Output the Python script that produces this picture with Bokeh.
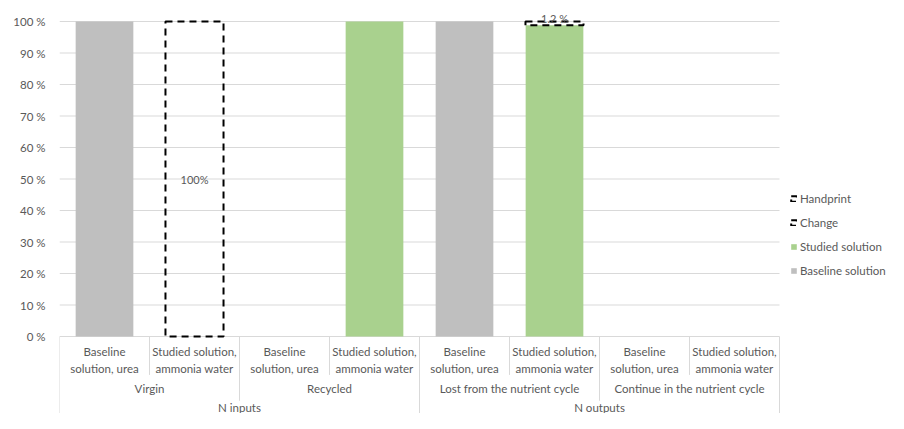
import numpy as np
from bokeh.plotting import figure
from bokeh.models import ColumnDataSource, FixedTicker, Legend, LegendItem, Range1d
from bokeh.core.properties import value
from bokeh.embed import file_html
from bokeh.resources import INLINE

# ---- data ----
categories = ["Baseline\nsolution, urea", "Studied solution,\nammonia water"] * 4
subgroups = ["Virgin", "Recycled", "Lost from the nutrient cycle", "Continue in the nutrient cycle"]
groups = ["N inputs", "N outputs"]
baseline = [100, 0, 0, 0, 100, 0, 0, 0]
studied = [0, 0, 0, 100, 0, 98.8, 0, 0]
change = [0, 100, 0, 0, 0, 0, 0, 0]
handprint = [0, 0, 0, 0, 0, 1.2, 0, 0]
change_labels = ["", "100%", "", "", "", "", "", ""]
handprint_labels = ["", "", "", "", "", "1.2 %", "", ""]
y_ticks = [0, 10, 20, 30, 40, 50, 60, 70, 80, 90, 100]
y_tick_labels = ["0 %", "10 %", "20 %", "30 %", "40 %", "50 %", "60 %", "70 %", "80 %", "90 %", "100 %"]

# ---- style / geometry ----
FONT = "Lato"
TXT = "#595959"
GRID = "#d9d9d9"
W, H = 888, 413
LEFT = 59
TOP_PX = 21     # pixel position of the 100 % line
PX = 3.15       # pixels per percent
CW = 90.0       # pixels per category
y_end = 100 + TOP_PX / PX
y_start = y_end - H / PX
n = len(categories)
x_end = (W - LEFT) / CW

p = figure(width=W, height=H, output_backend="svg", toolbar_location=None,
           x_range=Range1d(0, x_end), y_range=Range1d(y_start, y_end),
           min_border_left=LEFT, min_border_right=0, min_border_top=0, min_border_bottom=0)
p.outline_line_color = None
p.xaxis.visible = False
p.grid.visible = False
p.yaxis.ticker = FixedTicker(ticks=y_ticks)
p.yaxis.major_label_overrides = {t: l for t, l in zip(y_ticks, y_tick_labels)}
p.yaxis.axis_line_color = None
p.yaxis.major_tick_line_color = None
p.yaxis.minor_tick_line_color = None
p.yaxis.major_label_standoff = 8
p.yaxis.major_label_text_font = FONT
p.yaxis.major_label_text_font_size = "11.5px"
p.yaxis.major_label_text_color = TXT

# gridlines over the category span
p.segment(x0=[0] * len(y_ticks), y0=y_ticks, x1=[n] * len(y_ticks), y1=y_ticks,
          line_color=GRID, line_width=1)

# ---- stacked bars ----
xs = np.arange(n) + 0.5
series = [("Baseline solution", baseline, "#bfbfbf", None),
          ("Studied solution", studied, "#a9d18e", None),
          ("Change", change, None, "black"),
          ("Handprint", handprint, None, "black")]
bottom = np.zeros(n)
renderers = {}
tops = {}
for name, vals, fill, line in series:
    v = np.array(vals, dtype=float)
    top = bottom + v
    keep = v > 0
    src = ColumnDataSource(dict(x=xs[keep], bottom=bottom[keep], top=top[keep]))
    if fill is not None:
        r = p.vbar(x="x", bottom="bottom", top="top", width=0.641, source=src,
                   fill_color=fill, line_color=None)
    else:
        r = p.vbar(x="x", bottom="bottom", top="top", width=0.645, source=src,
                   fill_color="white", fill_alpha=0, line_color=line, line_width=2,
                   line_dash="7 5")
    renderers[name] = r
    tops[name] = (bottom.copy(), top.copy())
    bottom = top

# data labels
cb, ct = tops["Change"]
lab_src = ColumnDataSource(dict(x=xs, y=(cb + ct) / 2, t=change_labels))
p.text(x="x", y="y", text="t", source=lab_src, text_align="center", text_baseline="middle",
       text_font=value(FONT), text_font_size="11px", text_color=TXT)
hb, ht = tops["Handprint"]
hl_src = ColumnDataSource(dict(x=xs, y=ht, t=handprint_labels))
p.text(x="x", y="y", text="t", source=hl_src, text_align="center", text_baseline="middle",
       y_offset=-3, text_font=value(FONT), text_font_size="11px", text_color=TXT)

# ---- category axis (multi-level) ----
per_sub = n // len(subgroups)
per_grp = n // len(groups)
lvl1 = [i for i in range(1, n) if i % per_sub != 0]
lvl2 = [i for i in range(1, n) if i % per_sub == 0 and i % per_grp != 0]
lvl3 = [i for i in range(0, n + 1) if i % per_grp == 0]
for xs_, yb in ((lvl1, -12.2), (lvl2, -20.4), (lvl3, y_start)):
    p.segment(x0=xs_, y0=[0] * len(xs_), x1=xs_, y1=[yb] * len(xs_), line_color=GRID, line_width=1)

cat_src = ColumnDataSource(dict(x=xs, y=[-7.5] * n, t=categories))
p.text(x="x", y="y", text="t", source=cat_src, text_align="center", text_baseline="middle",
       text_line_height=1.3, text_font=value(FONT), text_font_size="11.5px", text_color=TXT)
sub_x = [per_sub * (i + 0.5) for i in range(len(subgroups))]
p.text(x=sub_x, y=[-16.5] * len(sub_x), text=subgroups, text_align="center", text_baseline="middle",
       text_font=value(FONT), text_font_size="11.5px", text_color=TXT)
grp_x = [per_grp * (i + 0.5) for i in range(len(groups))]
p.text(x=grp_x, y=[-22.4] * len(grp_x), text=groups, text_align="center", text_baseline="middle",
       text_font=value(FONT), text_font_size="11.5px", text_color=TXT)

# ---- legend ----
legend = Legend(items=[LegendItem(label=nm, renderers=[renderers[nm]]) for nm in
                       ["Handprint", "Change", "Studied solution", "Baseline solution"]],
                location=(731, 134), border_line_color=None, background_fill_alpha=0,
                label_text_font=FONT, label_text_font_size="11.5px", label_text_color=TXT,
                glyph_width=7, glyph_height=7, label_height=18, spacing=6, padding=0,
                margin=0, label_standoff=3)
p.add_layout(legend)

open("out.html", "w").write(file_html(p, INLINE))
